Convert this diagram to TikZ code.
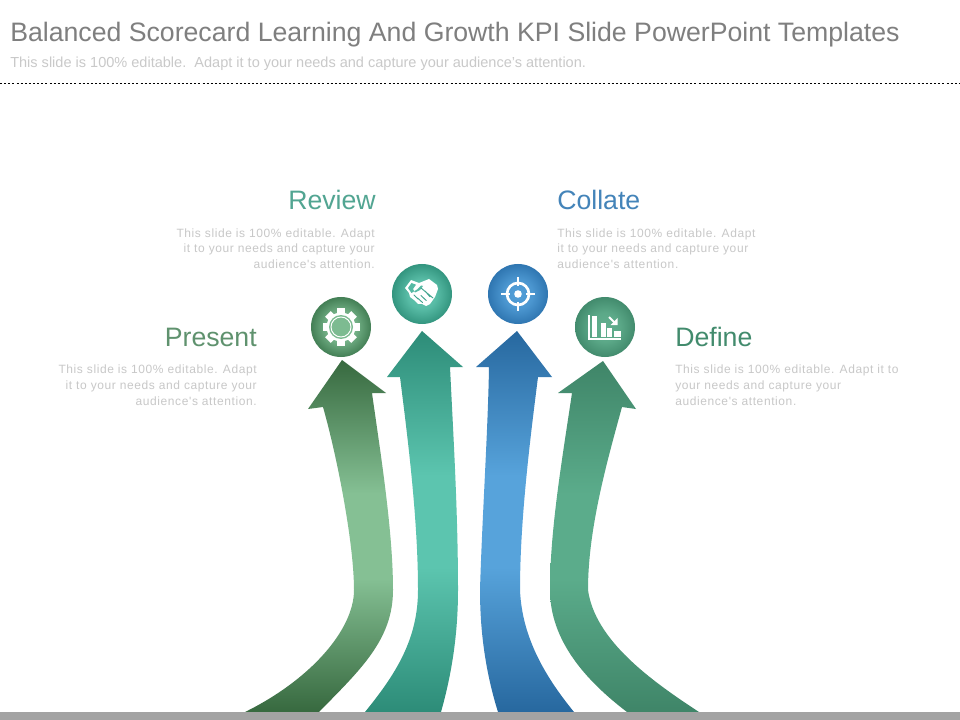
\documentclass[tikz,border=0pt]{standalone}
\usepackage{fontspec}
\setmainfont{Liberation Sans}
\newfontfamily\spacedfont[LetterSpace=5]{Liberation Sans}
\definecolor{titlegray}{HTML}{7F7F7F}
\definecolor{subgray}{HTML}{C9C9C9}
\definecolor{bodygray}{HTML}{C8C8C8}
\definecolor{bargray}{HTML}{A3A3A3}
\definecolor{pDark}{HTML}{37693F}
\definecolor{pLight}{HTML}{85C094}
\definecolor{rDark}{HTML}{2D8C78}
\definecolor{rLight}{HTML}{5CC5AF}
\definecolor{cDark}{HTML}{27689F}
\definecolor{cLight}{HTML}{57A3DB}
\definecolor{dDark}{HTML}{3F8568}
\definecolor{dLight}{HTML}{5BAC8B}
\definecolor{pOut}{HTML}{437F55}
\definecolor{pIn}{HTML}{82C096}
\definecolor{rOut}{HTML}{33957F}
\definecolor{rIn}{HTML}{62C6B0}
\definecolor{cOut}{HTML}{2F76B1}
\definecolor{cIn}{HTML}{539FD8}
\definecolor{dOut}{HTML}{428B6D}
\definecolor{dIn}{HTML}{62B08F}
\pgfdeclareradialshading{pball}{\pgfpoint{0bp}{0bp}}{color(0bp)=(pIn); color(12bp)=(pIn!80!pOut); color(25bp)=(pOut); color(50bp)=(pOut)}
\pgfdeclareradialshading{rball}{\pgfpoint{0bp}{0bp}}{color(0bp)=(rIn); color(12bp)=(rIn!80!rOut); color(25bp)=(rOut); color(50bp)=(rOut)}
\pgfdeclareradialshading{cball}{\pgfpoint{0bp}{0bp}}{color(0bp)=(cIn); color(12bp)=(cIn!80!cOut); color(25bp)=(cOut); color(50bp)=(cOut)}
\pgfdeclareradialshading{dball}{\pgfpoint{0bp}{0bp}}{color(0bp)=(dIn); color(12bp)=(dIn!80!dOut); color(25bp)=(dOut); color(50bp)=(dOut)}
\pgfdeclareverticalshading{pshaft}{100bp}{color(0bp)=(pDark); color(25bp)=(pDark); color(44bp)=(pLight); color(56bp)=(pLight); color(75bp)=(pDark); color(100bp)=(pDark)}
\pgfdeclareverticalshading{rshaft}{100bp}{color(0bp)=(rDark); color(25bp)=(rDark); color(44bp)=(rLight); color(56bp)=(rLight); color(75bp)=(rDark); color(100bp)=(rDark)}
\pgfdeclareverticalshading{cshaft}{100bp}{color(0bp)=(cDark); color(25bp)=(cDark); color(44bp)=(cLight); color(56bp)=(cLight); color(75bp)=(cDark); color(100bp)=(cDark)}
\pgfdeclareverticalshading{dshaft}{100bp}{color(0bp)=(dDark); color(25bp)=(dDark); color(44bp)=(dLight); color(56bp)=(dLight); color(75bp)=(dDark); color(100bp)=(dDark)}
\tikzset{
  x=0.75pt,y=-0.75pt,
  head/.style={inner sep=0,font=\fontsize{20}{24}\selectfont},
  bodytext/.style={inner sep=0,font=\spacedfont\fontsize{9}{12}\selectfont,text=bodygray},
  badge/.style={circle,minimum size=45pt,inner sep=0},
}
\begin{document}
\begin{tikzpicture}
\useasboundingbox (0,0) rectangle (960,720);
\fill[white] (0,0) rectangle (960,720);
% header
\node[anchor=base west,inner sep=0,text=titlegray,font=\fontsize{20}{24}\selectfont] (title) at (10,42) {Balanced Scorecard Learning And Growth KPI Slide PowerPoint Templates};
\node[anchor=base west,inner sep=0,text=subgray,font=\fontsize{10.9}{13}\selectfont] (subtitle) at (10,68) {This slide is 100\% editable.\ \ Adapt it to your needs and capture your audience's attention.};
\draw[black,line width=1.4pt,dash pattern=on 1.5pt off 1.6pt] (0,83.5) -- (960,83.5);
% arrows
\path[shading=pshaft]
 (342,360)--(386,393)--(372,393) .. controls (380,450) and (393,530) .. (393,590) .. controls (393,640) and (360,670) .. (319,712) -- (245,712) .. controls (310,680) and (354,630) .. (354,590) .. controls (354,545) and (338,460) .. (323,407) -- (308,409) -- cycle;
\path[shading=rshaft]
 (422,331)--(463,367)--(450,367) .. controls (453,430) and (458,510) .. (458,590) .. controls (458,640) and (450,680) .. (441,712) -- (365,712) .. controls (395,675) and (418,640) .. (418,590) .. controls (418,520) and (408,440) .. (400,377) -- (387,377) -- cycle;
\path[shading=cshaft]
 (517,331)--(552,377)--(538,377) .. controls (530,440) and (520,520) .. (520,590) .. controls (522,640) and (548,680) .. (574,712) -- (498,712) .. controls (488,680) and (480,640) .. (480,590) .. controls (482,520) and (488,430) .. (489,367) -- (476,367) -- cycle;
\path[shading=dshaft]
 (603,361)--(636,409)--(622,407) .. controls (606,465) and (588,530) .. (588,590) .. controls (595,640) and (650,680) .. (699,712) -- (627,712) .. controls (585,680) and (550,640) .. (550,590) .. controls (550,530) and (562,460) .. (572,393) -- (558,393) -- cycle;
% bottom bar
\fill[bargray] (0,712) rectangle (960,720);
% badges
\node[badge,shading=pball] (present) at (341,327) {};
\node[badge,shading=rball] (review) at (422,294) {};
\node[badge,shading=cball] (collate) at (518,294) {};
\node[badge,shading=dball] (define) at (605,327) {};
% gear icon
\begin{scope}[shift={(present.center)}]
  \foreach \a in {0,45,...,315}{
    \fill[white,rotate=\a] (-4,-18.5) rectangle (4,-10);
  }
  \fill[white] (0,0) circle[radius=14.5];
  \fill[pIn!92!pOut] (0,0) circle[radius=12];
  \draw[white,line width=0.7pt] (0,0) circle[radius=10];
\end{scope}
% handshake icon
\begin{scope}[shift={(review.center)}]
  \fill[white,line join=round]
    (-17,-6) -- (-11,-14) -- (-3,-11) -- (7,-15) -- (15,-9) -- (16,-5) -- (13,3) -- (8,10) -- (4,12) -- (0,10) -- (-4,10) -- (-8,6) -- (-12,3) -- (-13,-1) -- cycle;
  \fill[rIn!75!rOut] (-14,-6) -- (-10.5,-11) -- (-6,-9.3) -- (-9,-5) -- (-7,-1.5) -- (-2,-4) -- (1,-8) -- (-1,-8.5) -- (-5,-4.5) -- (-10.5,-1) -- cycle;
  \draw[rOut!70!rIn,line width=0.7pt,line cap=round]
    (-1,-6) -- (11,4) (-1,1.5) -- (4.2,6.5) (-4.5,4) -- (0.5,8.5) (3,-3) -- (8,2.8) (-8,1) -- (-4,5);
\end{scope}
% target icon
\begin{scope}[shift={(collate.center)}]
  \draw[white,line width=2pt] (0,0) circle[radius=11];
  \draw[white,line width=2pt] (0,-17) -- (0,-8) (0,8) -- (0,17) (-17,0) -- (-8,0) (8,0) -- (17,0);
  \fill[white] (0,0) circle[radius=3.8];
\end{scope}
% chart icon
\begin{scope}[shift={(define.center)}]
  \draw[white,line width=1.3pt] (-16,-12) -- (-16,12) -- (16,12);
  \fill[white] (-13,-11) rectangle (-8.5,10);
  \fill[white] (-4,-4) rectangle (0.5,10);
  \fill[white] (2,1) rectangle (7,10);
  \fill[white] (9,4) rectangle (16,10);
  \draw[white,line width=1.4pt] (4,-10) -- (10.5,-3.5);
  \fill[white] (12.5,-9) -- (12.5,-2) -- (5.5,-2) -- cycle;
\end{scope}
% labels
\node[head,anchor=base east,text=rOut!85!white] (reviewlabel) at (376,210) {Review};
\node[head,anchor=base west,text=cOut!90!white] (collatelabel) at (557,210) {Collate};
\node[head,anchor=base east,text=pOut!85!white] (presentlabel) at (257,346) {Present};
\node[head,anchor=base west,text=dOut] (definelabel) at (675,346) {Define};
\node[bodytext,anchor=base east,align=right] (reviewtext) at (375,269) {This slide is 100\% editable. Adapt\\it to your needs and capture your\\audience's attention.};
\node[bodytext,anchor=base west,align=left] (collatetext) at (557,269) {This slide is 100\% editable. Adapt\\it to your needs and capture your\\audience's attention.};
\node[bodytext,anchor=base east,align=right] (presenttext) at (257,405) {This slide is 100\% editable. Adapt\\it to your needs and capture your\\audience's attention.};
\node[bodytext,anchor=base west,align=left] (definetext) at (675,405) {This slide is 100\% editable. Adapt it to\\your needs and capture your\\audience's attention.};
\end{tikzpicture}
\end{document}
